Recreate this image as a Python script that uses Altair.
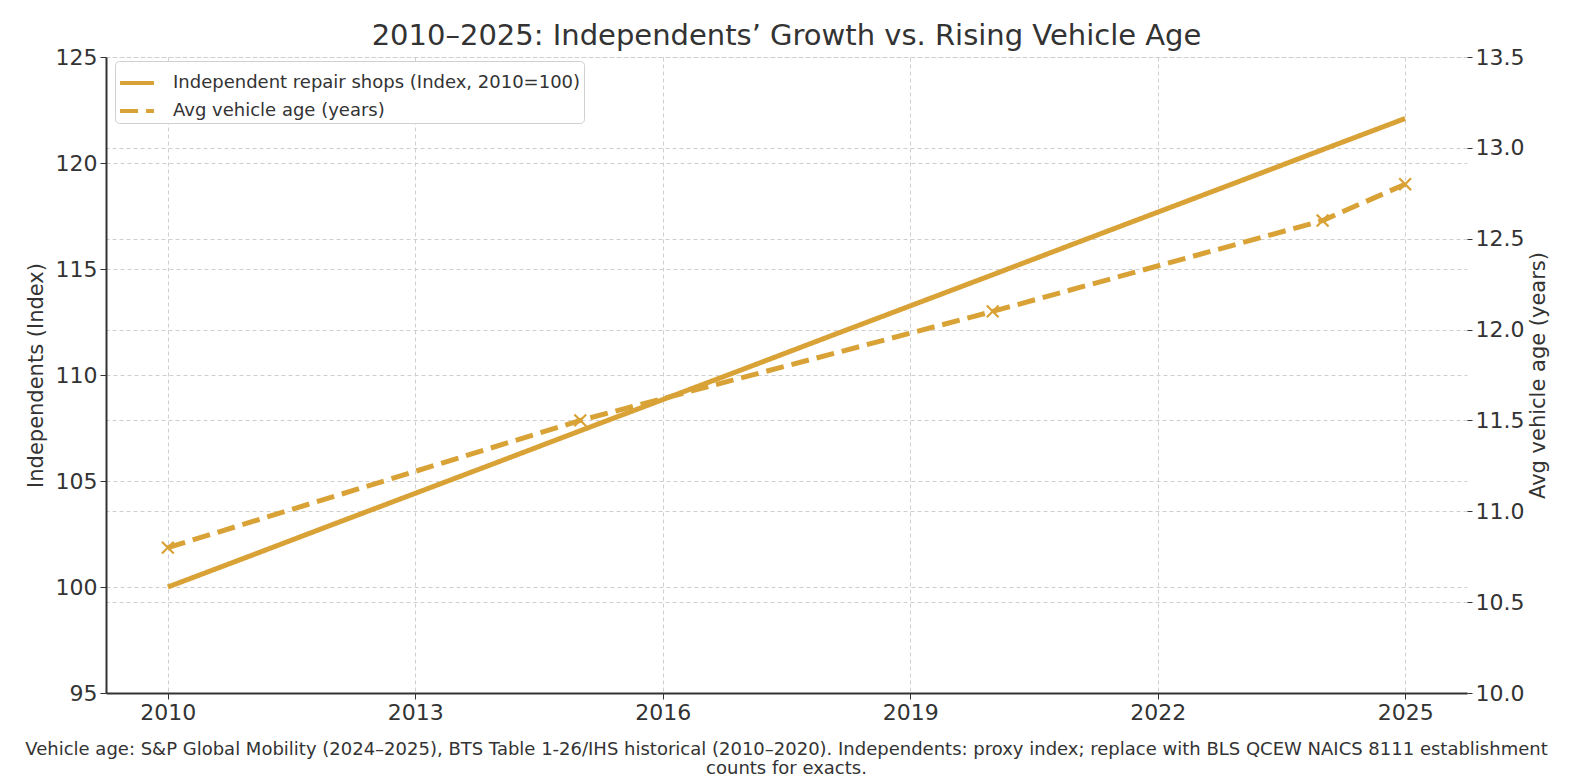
import altair as alt
import pandas as pd

# ---- data ----
years = [2010, 2011, 2012, 2013, 2014, 2015, 2016, 2017, 2018, 2019, 2020, 2021, 2022, 2023, 2024, 2025]
indep_values = [100.0, 101.47, 102.95, 104.42, 105.89, 107.37, 108.84, 110.31, 111.79, 113.26, 114.73, 116.21, 117.68, 119.15, 120.63, 122.1]
age_years = [2010, 2015, 2020, 2024, 2025]
age_values = [10.8, 11.5, 12.1, 12.6, 12.8]

s_indep = "Independent repair shops (Index, 2010=100)"
s_age = "Avg vehicle age (years)"
x_ticks = [2010, 2013, 2016, 2019, 2022, 2025]
left_ticks = [95, 100, 105, 110, 115, 120, 125]
right_ticks = [10.0, 10.5, 11.0, 11.5, 12.0, 12.5, 13.0, 13.5]
title_text = "2010\u20132025: Independents\u2019 Growth vs. Rising Vehicle Age"
footer_lines = [
    "Vehicle age: S&P Global Mobility (2024\u20132025), BTS Table 1-26/IHS historical (2010\u20132020). Independents: proxy index; replace with BLS QCEW NAICS 8111 establishment",
    "counts for exacts.",
]

indep_df = pd.DataFrame({"year": years, "value": indep_values, "series": s_indep})
age_df = pd.DataFrame({"year": age_years, "value": age_values, "series": s_age})

COLOR = "#D9A236"
TXT = "#333333"
GRID = "#cfcfcf"
FONT = "DejaVu Sans"

x_enc = alt.X(
    "year:Q",
    scale=alt.Scale(domain=[2009.25, 2025.75], nice=False, zero=False),
    axis=alt.Axis(
        values=x_ticks, format="d", grid=True, gridDash=[4, 3], gridColor=GRID,
        title=footer_lines, titleFontSize=18, titleFontWeight="normal",
        titlePadding=17, titleX=680, titleColor=TXT, titleLineHeight=19,
        labelFontSize=22, labelPadding=3, tickSize=6, tickColor=TXT,
        domainColor=TXT, domainWidth=2, labelColor=TXT,
    ),
)

dash_enc = alt.StrokeDash(
    "series:N",
    scale=alt.Scale(domain=[s_indep, s_age], range=[[1, 0], [18, 8]]),
    legend=alt.Legend(
        title=None, orient="none", legendX=9, legendY=4,
        symbolType="stroke", symbolStrokeColor=COLOR, symbolStrokeWidth=4,
        symbolSize=1150, labelFontSize=18, labelColor=TXT, labelFont=FONT,
        labelLimit=0, fillColor="white", strokeColor="#d0d0d0", cornerRadius=4,
        padding=3, rowPadding=-7, labelOffset=17,
    ),
)

solid = alt.Chart(indep_df).mark_line(color=COLOR, strokeWidth=5).encode(
    x=x_enc,
    y=alt.Y(
        "value:Q",
        scale=alt.Scale(domain=[95, 125], nice=False, zero=False),
        axis=alt.Axis(
            values=left_ticks, grid=True, gridDash=[4, 3], gridColor=GRID,
            title="Independents (Index)", titleFontSize=21, titleFontWeight="normal",
            titleColor=TXT, titlePadding=9, labelFontSize=22, labelColor=TXT,
            labelPadding=3, tickSize=6, tickColor=TXT, domainColor=TXT, domainWidth=2,
        ),
    ),
    strokeDash=dash_enc,
)

y_right = alt.Y(
    "value:Q",
    scale=alt.Scale(domain=[10.0, 13.5], nice=False, zero=False),
    axis=alt.Axis(
        orient="right", values=right_ticks, format=".1f", grid=True, gridDash=[4, 3],
        gridColor=GRID, title="Avg vehicle age (years)", titleFontSize=21,
        titleFontWeight="normal", titleColor=TXT, titleAngle=270, titlePadding=25,
        labelFontSize=22, labelColor=TXT, labelPadding=3, tickSize=5, tickColor=TXT,
        domain=False,
    ),
)

dashed = alt.Chart(age_df).mark_line(color=COLOR, strokeWidth=5).encode(
    x=x_enc, y=y_right, strokeDash=dash_enc,
)
pts = alt.Chart(age_df).mark_point(
    shape="M-1,-1L1,1M1,-1L-1,1", filled=False, size=140, strokeWidth=2.2, color=COLOR, opacity=1,
).encode(x=x_enc, y=y_right)

right = alt.layer(dashed, pts)

chart = (
    alt.layer(solid, right)
    .resolve_scale(y="independent")
    .properties(
        width=1361, height=636,
        autosize=alt.AutoSizeParams(type="none"),
        padding={"left": 98, "top": 49, "right": 95, "bottom": 85},
        title=alt.TitleParams(title_text, fontSize=29, fontWeight="normal", color=TXT,
                              font=FONT, offset=-5, anchor="middle"),
    )
    .configure(font=FONT)
    .configure_view(stroke=None)
    .configure_axis(labelFont=FONT, titleFont=FONT)
)

chart.save("out.html", embed_options={"renderer": "svg", "actions": False})
